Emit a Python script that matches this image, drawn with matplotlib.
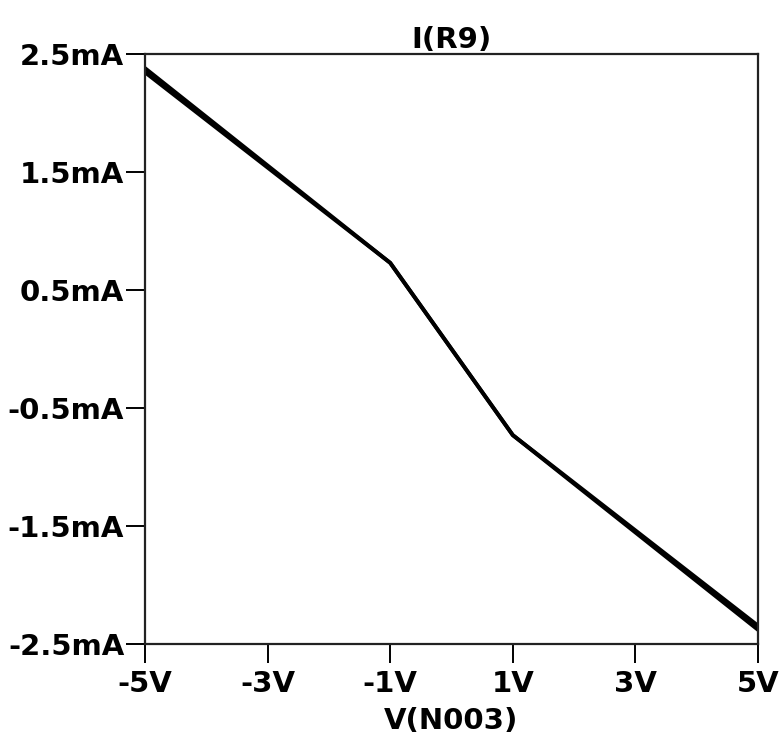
import matplotlib.pyplot as plt
from matplotlib.ticker import FuncFormatter

# sweep points (V) and two overlapping traces of I(R9) in mA
v_sweep = [-5, -1, 1, 5]
i_r9_a = [2.38, 0.73, -0.73, -2.38]
i_r9_b = [2.345, 0.73, -0.73, -2.345]

x_ticks = [-5, -3, -1, 1, 3, 5]
y_ticks = [2.5, 1.5, 0.5, -0.5, -1.5, -2.5]

plt.rcParams["font.family"] = ["DejaVu Sans Condensed", "DejaVu Sans"]
plt.rcParams["font.weight"] = "bold"

fig = plt.figure(figsize=(7.8, 7.42), dpi=100)
ax = fig.add_axes([0.1859, 0.1321, 0.7859, 0.7951])

ax.plot(v_sweep, i_r9_a, color="black", lw=2.8, solid_joinstyle="round")
ax.plot(v_sweep, i_r9_b, color="black", lw=2.8, solid_joinstyle="round")

ax.set_xlim(-5, 5)
ax.set_ylim(-2.5, 2.5)
ax.set_xticks(x_ticks)
ax.set_yticks(y_ticks)
ax.xaxis.set_major_formatter(FuncFormatter(lambda v, p: f"{v:g}V"))
ax.yaxis.set_major_formatter(FuncFormatter(lambda v, p: f"{v:g}mA"))

ax.tick_params(axis="both", direction="out", length=14, width=1.4,
               labelsize=21, color="black")
ax.tick_params(axis="y", pad=1)
ax.tick_params(axis="x", pad=5)
ax.tick_params(top=False, right=False)
for s in ax.spines.values():
    s.set_linewidth(1.6)
    s.set_color("#222222")

ax.set_title("I(R9)", fontsize=21, fontweight="bold", pad=4)
ax.set_xlabel("V(N003)", fontsize=21, fontweight="bold", labelpad=6)

fig.savefig("out.png", dpi=100)
